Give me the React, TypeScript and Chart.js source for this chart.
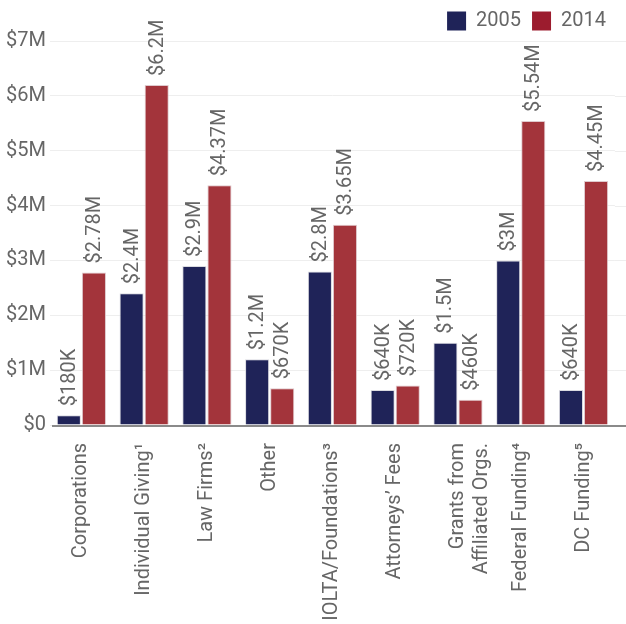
import React, { useEffect, useRef } from "react";
import { Chart, registerables } from "chart.js";

Chart.register(...registerables);

const categories: (string | string[])[] = [
  "Corporations",
  "Individual Giving¹",
  "Law Firms²",
  "Other",
  "IOLTA/Foundations³",
  "Attorneys’ Fees",
  ["Grants from", "Affiliated Orgs."],
  "Federal Funding⁴",
  "DC Funding⁵",
];
const values2005 = [180000, 2400000, 2900000, 1200000, 2800000, 640000, 1500000, 3000000, 640000];
const values2014 = [2780000, 6200000, 4370000, 670000, 3650000, 720000, 460000, 5540000, 4450000];
const seriesNames = ["2005", "2014"];

const NAVY = "#1f2358";
const RED = "#a3343b";
const LEGEND_RED = "#9c1c2e";
const TEXT = "#666666";
const FONT = "Roboto";
const FS = 20;

function fmt(v: number): string {
  if (v === 0) return "$0";
  if (v >= 1e6) return "$" + Math.round((v / 1e6) * 100) / 100 + "M";
  return "$" + Math.round(v / 1e3) + "K";
}

const dataLabels = {
  id: "dataLabels",
  afterDatasetsDraw(chart: any) {
    const ctx = chart.ctx;
    ctx.save();
    ctx.fillStyle = TEXT;
    ctx.font = `${FS}px ${FONT}`;
    ctx.textAlign = "left";
    ctx.textBaseline = "middle";
    chart.data.datasets.forEach((ds: any, di: number) => {
      const meta = chart.getDatasetMeta(di);
      meta.data.forEach((bar: any, i: number) => {
        ctx.save();
        ctx.translate(bar.x, bar.y - 9);
        ctx.rotate(-Math.PI / 2);
        ctx.fillText(fmt(ds.data[i]), 0, 1);
        ctx.restore();
      });
    });
    ctx.restore();
  },
};

const extendGrid = {
  id: "extendGrid",
  beforeDatasetsDraw(chart: any) {
    const { ctx, chartArea, scales } = chart;
    const yScale = scales.y;
    ctx.save();
    ctx.strokeStyle = "#eeeeee";
    ctx.lineWidth = 1;
    yScale.ticks.forEach((t: any) => {
      if (t.value === 0) return;
      const y = Math.round(yScale.getPixelForValue(t.value)) + 0.5;
      ctx.beginPath();
      ctx.moveTo(chartArea.right, y);
      ctx.lineTo(chart.width, y);
      ctx.stroke();
    });
    ctx.restore();
  },
  afterDatasetsDraw(chart: any) {
    const { ctx, chartArea } = chart;
    ctx.save();
    ctx.strokeStyle = "#8a8a8a";
    ctx.lineWidth = 2;
    ctx.beginPath();
    ctx.moveTo(chartArea.left + 2, chartArea.bottom + 1);
    ctx.lineTo(chart.width, chartArea.bottom + 1);
    ctx.stroke();
    ctx.restore();
  },
};

export default function App() {
  const ref = useRef<HTMLCanvasElement>(null);
  useEffect(() => {
    document.body.style.margin = "0";
    const chart = new Chart(ref.current!, {
      type: "bar",
      data: {
        labels: categories,
        datasets: [
          {
            label: seriesNames[0],
            data: values2005,
            backgroundColor: NAVY,
            borderColor: "rgba(215,215,222,0.9)",
            borderWidth: 1,
            categoryPercentage: 0.8,
            barPercentage: 0.96,
          },
          {
            label: seriesNames[1],
            data: values2014,
            backgroundColor: RED,
            borderColor: "rgba(220,195,200,0.9)",
            borderWidth: 1,
            categoryPercentage: 0.8,
            barPercentage: 0.96,
          },
        ],
      },
      options: {
        responsive: false,
        animation: false,
        layout: { padding: { left: 0, right: 9, top: 0, bottom: 0 } },
        plugins: {
          tooltip: { enabled: false },
          legend: {
            position: "top",
            align: "end",
            labels: {
              boxWidth: 19,
              boxHeight: 19,
              color: TEXT,
              font: { family: FONT, size: FS },
              padding: 11,
              generateLabels: () => [
                { text: seriesNames[0], fillStyle: NAVY, strokeStyle: NAVY, lineWidth: 0, datasetIndex: 0, fontColor: TEXT },
                { text: seriesNames[1], fillStyle: LEGEND_RED, strokeStyle: LEGEND_RED, lineWidth: 0, datasetIndex: 1, fontColor: TEXT },
              ],
            },
          },
        },
        scales: {
          x: {
            grid: { display: false, drawTicks: false },
            border: { display: false },
            afterFit: (scale: any) => {
              scale.height = 199;
            },
            ticks: {
              color: TEXT,
              font: { family: FONT, size: FS },
              autoSkip: false,
              maxRotation: 90,
              minRotation: 90,
              padding: 18,
            },
          },
          y: {
            min: 0,
            max: 7000000,
            border: { display: false },
            grid: { color: "#eeeeee", drawTicks: false },
            afterFit: (scale: any) => {
              scale.width = 50;
            },
            ticks: {
              stepSize: 1000000,
              color: TEXT,
              font: { family: FONT, size: FS },
              padding: 4,
              callback: (v: any) => fmt(Number(v)),
            },
          },
        },
      },
      plugins: [extendGrid, dataLabels],
    });
    return () => chart.destroy();
  }, []);
  return (
    <div style={{ width: 626, height: 624 }}>
      <canvas ref={ref} width={626} height={624} />
    </div>
  );
}
